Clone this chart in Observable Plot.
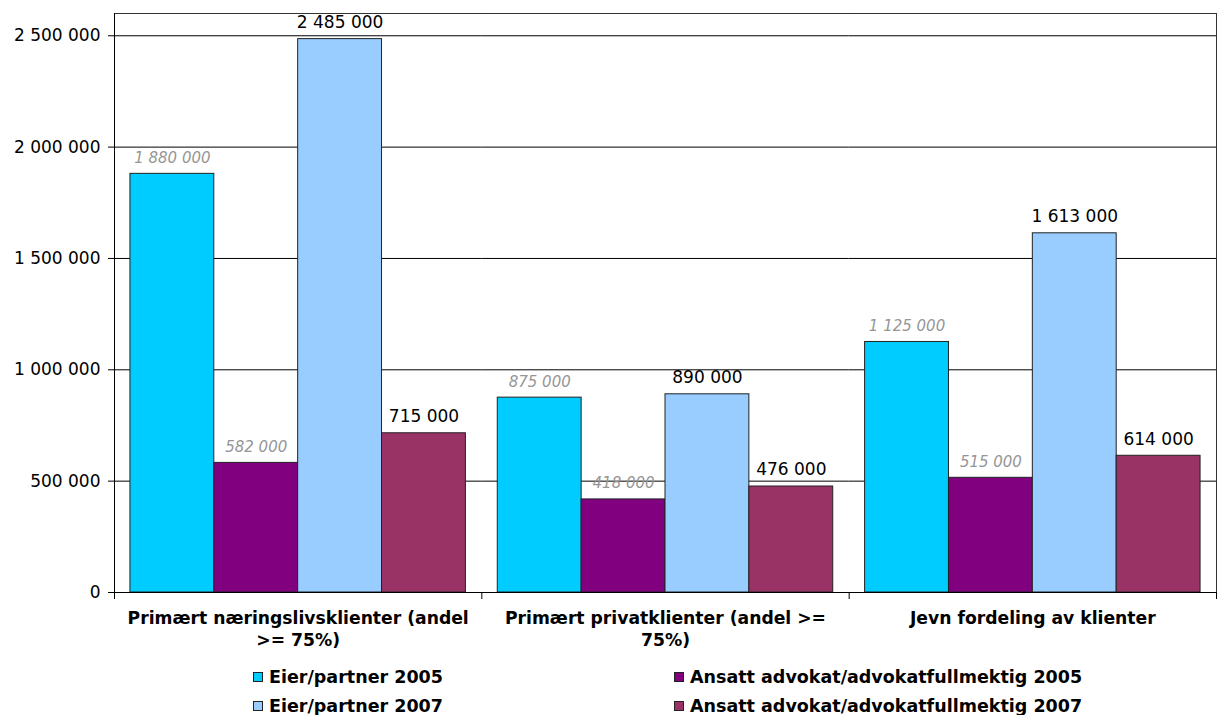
<!DOCTYPE html>
<html><head><meta charset="utf-8">
<script src="https://cdn.jsdelivr.net/npm/d3@7"></script>
<script src="https://cdn.jsdelivr.net/npm/@observablehq/plot@0.6"></script>
<style>
body{margin:0;background:#fff;}
#wrap{position:relative;width:1217px;height:715px;font-family:"DejaVu Sans",Verdana,sans-serif;background:#fff;}
.legend{position:absolute;left:253px;top:662px;display:grid;grid-template-columns:421px auto;font-weight:bold;font-size:17.5px;color:#000;}
.item{display:flex;align-items:center;height:29px;white-space:nowrap;}
.sw{width:8px;height:8px;border:1px solid #222;margin-right:6px;flex:none;}
</style></head><body><div id="wrap"></div>
<script>
const categories = ["Primært næringslivsklienter (andel >= 75%)", "Primært privatklienter (andel >= 75%)", "Jevn fordeling av klienter"];
const series = ["Eier/partner 2005", "Ansatt advokat/advokatfullmektig 2005", "Eier/partner 2007", "Ansatt advokat/advokatfullmektig 2007"];
const colors = ["#00CCFF", "#800080", "#99CCFF", "#993366"];
const eier2005 = [1880000, 875000, 1125000];
const ansatt2005 = [582000, 418000, 515000];
const eier2007 = [2485000, 890000, 1613000];
const ansatt2007 = [715000, 476000, 614000];
const yTicks = [0, 500000, 1000000, 1500000, 2000000, 2500000];
const yMax = 2600000;

const fmt = d3.formatLocale({decimal: ",", thousands: " ", grouping: [3], currency: ["", ""]}).format(",d");
function wrap(s) {
  const max = 34;
  const words = String(s).split(" "); const lines = []; let cur = "";
  for (const w of words) {
    if (cur && (cur + " " + w).length > max) { lines.push(cur); cur = w; }
    else cur = cur ? cur + " " + w : w;
  }
  lines.push(cur);
  return lines.join("\n");
}
const seriesValues = [eier2005, ansatt2005, eier2007, ansatt2007];
const data = categories.flatMap((c, i) => seriesValues.map((arr, j) => ({group: c, series: series[j], value: arr[i], year: j < 2 ? 2005 : 2007})));

const chart = Plot.plot({
  width: 1217, height: 660,
  marginTop: 13, marginLeft: 114, marginRight: 1, marginBottom: 68,
  style: {fontFamily: "'DejaVu Sans', Verdana, sans-serif", background: "white", color: "#000"},
  fx: {domain: categories, padding: 0, round: false, label: null},
  x: {domain: series, paddingInner: 0, paddingOuter: 0.19, round: false, axis: null},
  y: {domain: [0, yMax], label: null},
  color: {domain: series, range: colors},
  marks: [
    Plot.gridY(yTicks, {stroke: "#000", strokeOpacity: 1}),
    Plot.barY(data, {fx: "group", x: "series", y: "value", fill: "series", stroke: "#222", strokeWidth: 1}),
    Plot.text(data.filter(d => d.year === 2005), {fx: "group", x: "series", y: "value", text: d => fmt(d.value), lineAnchor: "bottom", dy: -11, fill: "#969696", fontStyle: "italic", fontSize: 15}),
    Plot.text(data.filter(d => d.year === 2007), {fx: "group", x: "series", y: "value", text: d => fmt(d.value), lineAnchor: "bottom", dy: -11, fill: "#000", fontSize: 17}),
    Plot.frame({anchor: "top", stroke: "#333"}),
    Plot.frame({anchor: "bottom", stroke: "#000"}),
    Plot.frame({anchor: "left", facetAnchor: "left", stroke: "#000"}),
    Plot.frame({anchor: "right", facetAnchor: "right", stroke: "#333"}),
    Plot.frame({anchor: "left", insetTop: 579, insetBottom: -6, stroke: "#000"}),
    Plot.frame({anchor: "right", facetAnchor: "right", insetTop: 579, insetBottom: -6, stroke: "#000"}),
    Plot.axisY(yTicks, {anchor: "left", tickFormat: fmt, tickSize: 6, tickPadding: 8, fontSize: 17, label: null}),
    Plot.axisFx({anchor: "bottom", tickSize: 0, tickPadding: 15, tickFormat: d => wrap(d), lineWidth: Infinity, fontSize: 17.2, fontWeight: "bold", lineHeight: 1.31, label: null})
  ]
});
const wrapEl = document.getElementById("wrap");
wrapEl.appendChild(chart);
const legend = document.createElement("div");
legend.className = "legend";
series.forEach((s, i) => {
  const it = document.createElement("div"); it.className = "item";
  const sw = document.createElement("span"); sw.className = "sw"; sw.style.background = colors[i];
  const tx = document.createElement("span"); tx.textContent = s;
  it.appendChild(sw); it.appendChild(tx); legend.appendChild(it);
});
wrapEl.appendChild(legend);
</script></body></html>
